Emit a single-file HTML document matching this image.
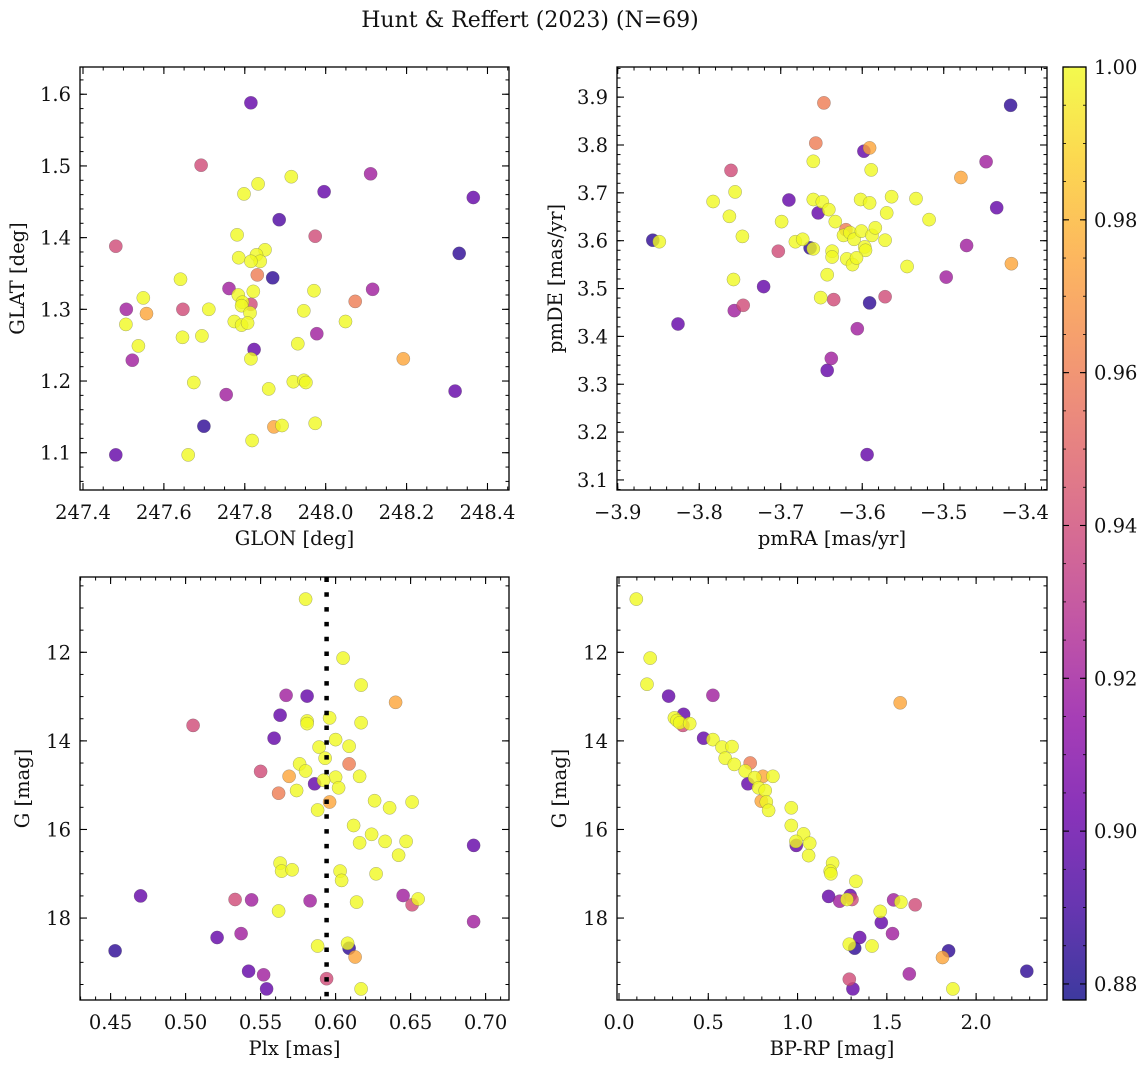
<!DOCTYPE html>
<html><head><meta charset="utf-8"><style>
html,body{margin:0;padding:0;background:#fff;}
svg{display:block;font-family:"DejaVu Serif","Liberation Serif",serif;}
</style></head><body>
<svg id="fig" width="1148" height="1067" viewBox="0 0 1148 1067" xmlns="http://www.w3.org/2000/svg">
<rect width="1148" height="1067" fill="#fff"/>
<text x="530" y="27" font-size="22" text-anchor="middle" fill="#111">Hunt &amp; Reffert (2023) (N=69)</text>
</svg>
<script>
// ---------- data ----------
const Y=1.0,O=0.975,S=0.96,P=0.94,M=0.92,V=0.90,W=0.893,D=0.885;
const p1Glon=[247.815,247.692,248.111,247.915,247.833,247.798,247.996,248.365,247.885,247.781,247.974,247.481,248.330,247.785,247.850,247.829,247.838,247.815,247.869,247.831,247.641,247.761,247.549,247.821,247.971,248.116,247.507,247.647,247.711,247.815,247.784,247.794,247.792,247.813,247.557,247.946,248.073,247.506,247.774,247.792,247.807,248.049,247.646,247.694,247.978,247.537,247.931,247.522,247.823,247.815,248.192,247.674,247.754,247.859,247.920,247.946,247.951,248.320,247.699,247.872,247.892,247.974,247.818,247.481,247.660];
const p1Glat=[1.588,1.501,1.489,1.485,1.475,1.461,1.464,1.456,1.425,1.404,1.402,1.388,1.378,1.372,1.383,1.376,1.367,1.367,1.344,1.348,1.342,1.329,1.316,1.325,1.326,1.328,1.300,1.300,1.300,1.307,1.320,1.310,1.305,1.295,1.294,1.298,1.311,1.279,1.283,1.278,1.281,1.283,1.261,1.263,1.266,1.249,1.252,1.229,1.244,1.231,1.231,1.198,1.181,1.189,1.199,1.201,1.198,1.186,1.137,1.136,1.138,1.141,1.117,1.097,1.097];
const p1Prob=[V,P,M,Y,Y,Y,V,V,W,Y,P,P,D,Y,Y,Y,Y,Y,D,S,Y,M,Y,Y,Y,M,M,P,Y,P,Y,Y,Y,Y,O,Y,S,Y,Y,Y,Y,Y,Y,Y,M,Y,Y,M,V,Y,O,Y,M,Y,Y,Y,Y,V,D,O,Y,Y,Y,V,Y];

const p2Pmra=[-3.647,-3.657,-3.591,-3.598,-3.418,-3.589,-3.660,-3.448,-3.761,-3.479,-3.756,-3.783,-3.690,-3.660,-3.649,-3.641,-3.602,-3.591,-3.564,-3.534,-3.435,-3.763,-3.654,-3.633,-3.570,-3.518,-3.699,-3.747,-3.857,-3.849,-3.682,-3.673,-3.664,-3.660,-3.620,-3.623,-3.615,-3.610,-3.601,-3.588,-3.584,-3.572,-3.637,-3.637,-3.597,-3.596,-3.619,-3.612,-3.607,-3.545,-3.472,-3.703,-3.758,-3.643,-3.417,-3.721,-3.497,-3.651,-3.635,-3.572,-3.591,-3.746,-3.757,-3.826,-3.606,-3.638,-3.643,-3.594];
const p2Pmde=[3.888,3.804,3.794,3.787,3.883,3.748,3.766,3.765,3.747,3.732,3.702,3.682,3.685,3.686,3.681,3.665,3.686,3.679,3.692,3.688,3.669,3.651,3.658,3.640,3.658,3.644,3.640,3.609,3.601,3.598,3.598,3.603,3.585,3.583,3.623,3.611,3.617,3.603,3.620,3.611,3.627,3.601,3.578,3.566,3.587,3.580,3.562,3.550,3.564,3.546,3.590,3.578,3.519,3.529,3.552,3.504,3.524,3.481,3.477,3.483,3.470,3.465,3.454,3.426,3.416,3.354,3.329,3.153];
const p2Prob=[S,S,O,V,D,Y,Y,M,P,O,Y,Y,V,Y,Y,Y,Y,Y,Y,Y,V,Y,V,Y,Y,Y,Y,Y,D,Y,Y,Y,D,Y,S,Y,Y,Y,Y,Y,Y,Y,Y,Y,Y,Y,Y,Y,Y,Y,M,P,Y,Y,O,V,M,Y,P,P,D,P,M,V,M,M,V,V];

const p3Plx=[.580,.605,.617,.640,.567,.581,.563,.581,.581,.596,.505,.559,.600,.609,.617,.589,.593,.576,.580,.609,.550,.569,.600,.616,.586,.592,.574,.602,.562,.596,.588,.626,.636,.651,.612,.624,.616,.633,.647,.642,.692,.563,.564,.571,.603,.604,.627,.470,.533,.544,.583,.614,.645,.651,.655,.562,.692,.521,.537,.588,.608,.609,.613,.453,.542,.552,.594,.554,.617];
const p3G=[10.80,12.13,12.74,13.13,12.97,12.99,13.42,13.55,13.61,13.48,13.65,13.94,13.97,14.12,13.59,14.14,14.39,14.52,14.68,14.52,14.69,14.80,14.82,14.80,14.97,14.89,15.12,15.06,15.18,15.38,15.56,15.35,15.51,15.38,15.91,16.11,16.30,16.27,16.27,16.58,16.36,16.76,16.94,16.91,16.94,17.15,17.00,17.50,17.58,17.59,17.61,17.64,17.49,17.70,17.57,17.84,18.08,18.44,18.35,18.63,18.57,18.68,18.88,18.74,19.20,19.28,19.37,19.60,19.60];
const p3Prob=[Y,Y,Y,O,M,V,V,Y,Y,Y,P,V,Y,Y,Y,Y,Y,Y,Y,S,P,O,Y,Y,V,Y,Y,Y,S,O,Y,Y,Y,Y,Y,Y,Y,Y,Y,Y,V,Y,Y,Y,Y,Y,Y,V,P,M,M,Y,M,P,Y,Y,M,V,M,Y,Y,D,O,D,V,M,P,V,Y];
const plxMedian=[0.594];

const p4Bprp=[.097,.175,.157,.278,.526,1.575,.362,.310,.325,.340,.358,.396,.474,.526,.577,.633,.595,.646,.735,.707,.806,.862,.722,.760,.782,.819,.797,.825,.838,.965,.965,1.034,.993,.991,1.068,1.062,1.196,1.183,1.187,1.327,1.174,1.236,1.295,1.305,1.277,1.538,1.579,1.659,1.463,1.469,1.532,1.348,1.290,1.320,1.417,1.846,1.812,1.290,1.626,2.284,1.310,1.870];
const p4G=[10.80,12.13,12.72,12.99,12.97,13.14,13.40,13.48,13.54,13.59,13.65,13.61,13.94,13.97,14.14,14.13,14.39,14.53,14.50,14.68,14.80,14.80,14.97,14.83,15.06,15.12,15.36,15.38,15.57,15.51,15.91,16.10,16.36,16.27,16.31,16.59,16.76,16.94,17.00,17.17,17.51,17.62,17.49,17.58,17.58,17.59,17.64,17.70,17.85,18.10,18.35,18.44,18.59,18.68,18.63,18.74,18.89,19.38,19.26,19.20,19.60,19.60];
const p4Prob=[Y,Y,Y,V,M,O,V,Y,Y,Y,P,Y,V,Y,Y,Y,Y,Y,S,Y,O,Y,V,Y,Y,Y,O,Y,Y,Y,Y,Y,V,Y,Y,Y,Y,Y,Y,Y,V,M,V,P,Y,M,Y,P,Y,V,M,V,Y,D,Y,D,O,P,M,D,V,Y];

const cbTicks=[0.88,0.90,0.92,0.94,0.96,0.98,1.00];
const VMIN=0.8779, VMAX=1.0;

// ---------- helpers ----------
const NS='http://www.w3.org/2000/svg';
const svg=document.getElementById('fig');
const FS=19.5;
function mk(tag,attrs,parent){const e=document.createElementNS(NS,tag);for(const k in attrs)e.setAttribute(k,attrs[k]);(parent||svg).appendChild(e);return e;}
const plasma=[[13,8,135],[65,4,157],[106,0,168],[143,13,164],[177,42,144],[204,71,120],[225,100,98],[242,132,75],[252,166,54],[252,206,37],[240,249,33]];
function cmap(t){t=Math.max(0,Math.min(1,t));const f=t*10,i=Math.min(9,Math.floor(f)),r=f-i;const a=plasma[i],b=plasma[i+1];return 'rgb('+[0,1,2].map(k=>Math.round(a[k]+(b[k]-a[k])*r)).join(',')+')';}
function fmt(v,d){return (v<0?'\u2212':'')+Math.abs(v).toFixed(d);}

function panel(cfg){
  const g=mk('g',{});
  
  
  const {x0,x1,y0,y1}=cfg;
  const sx=v=>x0+(v-cfg.xmin)/(cfg.xmax-cfg.xmin)*(x1-x0);
  const sy=cfg.yinv? (v=>y0+(v-cfg.ymin)/(cfg.ymax-cfg.ymin)*(y1-y0)) : (v=>y1-(v-cfg.ymin)/(cfg.ymax-cfg.ymin)*(y1-y0));
  const idx=cfg.xs.map((_,i)=>i).sort((a,b)=>cfg.ps[a]-cfg.ps[b]);
  const pg=mk('g',{},g);
  
  
  idx.forEach(i=>{
    const c=mk('circle',{cx:sx(cfg.xs[i]).toFixed(1),cy:sy(cfg.ys[i]).toFixed(1),r:6.6,fill:cmap((cfg.ps[i]-VMIN)/(VMAX-VMIN)),'fill-opacity':0.8,stroke:'#555','stroke-opacity':0.5,'stroke-width':0.5},pg);
    
    
  });
  if(cfg.vline){cfg.vline.forEach(v=>{const l=mk('line',{x1:sx(v),x2:sx(v),y1:y0+0.5,y2:y1,stroke:'#000','stroke-width':4.5,'stroke-dasharray':'4.5 10.3'},g);
    
    });}
  const fr=mk('rect',{x:x0,y:y0,width:x1-x0,height:y1-y0,fill:'none',stroke:'#000','stroke-width':1.3},g);
  
  
  const eps=1e-9;
  function ticksX(step,len){for(let v=Math.ceil((cfg.xmin-eps)/step)*step;v<=cfg.xmax+eps;v+=step){const x=sx(v);mk('line',{x1:x,x2:x,y1:y1,y2:y1-len,stroke:'#000','stroke-width':1},g);mk('line',{x1:x,x2:x,y1:y0,y2:y0+len,stroke:'#000','stroke-width':1},g);}}
  function ticksY(step,len){for(let v=Math.ceil((cfg.ymin-eps)/step)*step;v<=cfg.ymax+eps;v+=step){const y=sy(v);mk('line',{x1:x0,x2:x0+len,y1:y,y2:y,stroke:'#000','stroke-width':1},g);mk('line',{x1:x1,x2:x1-len,y1:y,y2:y,stroke:'#000','stroke-width':1},g);}}
  ticksX(cfg.xminor,3.5);ticksY(cfg.yminor,3.5);
  cfg.xticks.forEach(v=>{const x=sx(v);mk('line',{x1:x,x2:x,y1:y1,y2:y1-7,stroke:'#000','stroke-width':1.1},g);mk('line',{x1:x,x2:x,y1:y0,y2:y0+7,stroke:'#000','stroke-width':1.1},g);
    const t=mk('text',{x:x,y:y1+29,'font-size':FS,'text-anchor':'middle',fill:'#111'},g);t.textContent=fmt(v,cfg.xdec);
    
    });
  cfg.yticks.forEach(v=>{const y=sy(v);mk('line',{x1:x0,x2:x0+7,y1:y,y2:y,stroke:'#000','stroke-width':1.1},g);mk('line',{x1:x1,x2:x1-7,y1:y,y2:y,stroke:'#000','stroke-width':1.1},g);
    const t=mk('text',{x:x0-9,y:y+7,'font-size':FS,'text-anchor':'end',fill:'#111'},g);t.textContent=fmt(v,cfg.ydec);
    
    });
  const xl=mk('text',{x:(x0+x1)/2,y:y1+55,'font-size':FS,'text-anchor':'middle',fill:'#111'},g);xl.textContent=cfg.xlabel;
  
  
  const yx=cfg.ylx, yy=(y0+y1)/2;
  const yl=mk('text',{x:yx,y:yy,'font-size':FS,'text-anchor':'middle',fill:'#111',transform:'rotate(-90 '+yx+' '+yy+')'},g);yl.textContent=cfg.ylabel;
  
  
}

panel({name:'sky-position-panel',x0:80,x1:509,y0:67,y1:490,xmin:247.3926,xmax:248.4532,ymin:1.048,ymax:1.638,
  xs:p1Glon,ys:p1Glat,ps:p1Prob,xticks:[247.4,247.6,247.8,248.0,248.2,248.4],yticks:[1.1,1.2,1.3,1.4,1.5,1.6],xminor:0.05,yminor:0.02,xdec:1,ydec:1,
  xlabel:'GLON [deg]',ylabel:'GLAT [deg]',ylx:24});
panel({name:'proper-motion-panel',x0:617,x1:1047,y0:67,y1:490,xmin:-3.9009,xmax:-3.3733,ymin:3.079,ymax:3.963,
  xs:p2Pmra,ys:p2Pmde,ps:p2Prob,xticks:[-3.9,-3.8,-3.7,-3.6,-3.5,-3.4],yticks:[3.1,3.2,3.3,3.4,3.5,3.6,3.7,3.8,3.9],xminor:0.02,yminor:0.02,xdec:1,ydec:1,
  xlabel:'pmRA [mas/yr]',ylabel:'pmDE [mas/yr]',ylx:562});
panel({name:'parallax-magnitude-panel',x0:80,x1:509,y0:577,y1:1000,xmin:0.4296,xmax:0.7156,ymin:10.30,ymax:19.85,yinv:true,
  xs:p3Plx,ys:p3G,ps:p3Prob,xticks:[0.45,0.50,0.55,0.60,0.65,0.70],yticks:[12,14,16,18],xminor:0.01,yminor:0.5,xdec:2,ydec:0,
  xlabel:'Plx [mas]',ylabel:'G [mag]',ylx:29,vline:plxMedian});
panel({name:'color-magnitude-panel',x0:617,x1:1047,y0:577,y1:1000,xmin:-0.0112,xmax:2.397,ymin:10.30,ymax:19.85,yinv:true,
  xs:p4Bprp,ys:p4G,ps:p4Prob,xticks:[0.0,0.5,1.0,1.5,2.0],yticks:[12,14,16,18],xminor:0.1,yminor:0.5,xdec:1,ydec:0,
  xlabel:'BP-RP [mag]',ylabel:'G [mag]',ylx:566});

// ---------- colorbar ----------
(function(){
  const cx0=1063,cx1=1086,cy0=67,cy1=1000;
  const g=mk('g',{});
  
  
  const defs=mk('defs',{},g);
  const lg=mk('linearGradient',{id:'plg',x1:0,y1:1,x2:0,y2:0},defs);
  for(let i=0;i<=20;i++){mk('stop',{offset:(i/20),'stop-color':cmap(i/20),'stop-opacity':0.8},lg);}
  const r=mk('rect',{x:cx0,y:cy0,width:cx1-cx0,height:cy1-cy0,fill:'url(#plg)',stroke:'#000','stroke-width':1.3},g);
  
  
  const sy=v=>cy1-(v-VMIN)/(VMAX-VMIN)*(cy1-cy0);
  cbTicks.forEach(v=>{const y=sy(v);
    mk('line',{x1:cx1,x2:cx1-6,y1:y,y2:y,stroke:'#000','stroke-width':1.1},g);
    mk('line',{x1:cx0,x2:cx0+6,y1:y,y2:y,stroke:'#000','stroke-width':1.1},g);
    const t=mk('text',{x:cx1+8,y:y+7,'font-size':FS,fill:'#111'},g);t.textContent=v.toFixed(2);
    
    });
  for(let v=0.88;v<=1.0001;v+=0.005){const y=sy(v);mk('line',{x1:cx1,x2:cx1-3,y1:y,y2:y,stroke:'#000','stroke-width':0.8},g);mk('line',{x1:cx0,x2:cx0+3,y1:y,y2:y,stroke:'#000','stroke-width':0.8},g);}
})();
</script>
</body></html>
